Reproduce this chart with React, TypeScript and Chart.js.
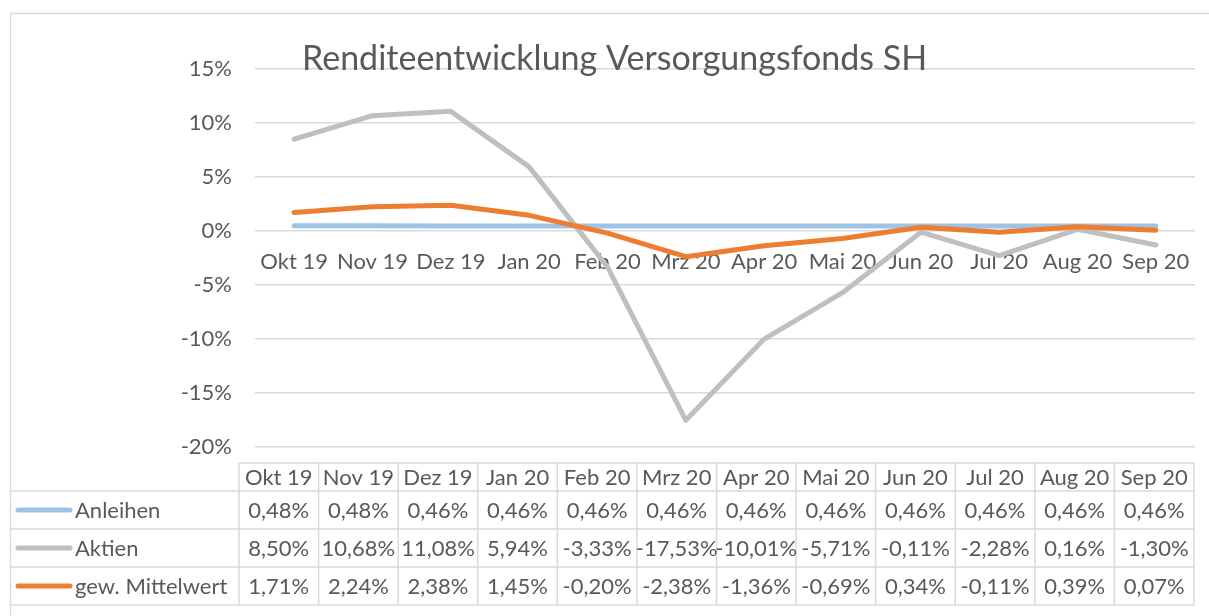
import React, { useEffect, useRef } from "react";
import { Chart, registerables } from "chart.js";

Chart.register(...registerables);

const title = "Renditeentwicklung Versorgungsfonds SH";
const categories = ["Okt 19", "Nov 19", "Dez 19", "Jan 20", "Feb 20", "Mrz 20", "Apr 20", "Mai 20", "Jun 20", "Jul 20", "Aug 20", "Sep 20"];
const anleihen = [0.48, 0.48, 0.46, 0.46, 0.46, 0.46, 0.46, 0.46, 0.46, 0.46, 0.46, 0.46];
const aktien = [8.5, 10.68, 11.08, 5.94, -3.33, -17.53, -10.01, -5.71, -0.11, -2.28, 0.16, -1.3];
const mittelwert = [1.71, 2.24, 2.38, 1.45, -0.2, -2.38, -1.36, -0.69, 0.34, -0.11, 0.39, 0.07];
const seriesNames = ["Anleihen", "Aktien", "gew. Mittelwert"];
const seriesColors = ["#9DC3E6", "#BFBFBF", "#ED7D31"];
const yMin = -20;
const yMax = 15;
const yStep = 5;

const FONT = "Lato, 'Open Sans', sans-serif";
const TEXT = "#595959";
const GRID = "#D9D9D9";
const LABEL_SIZE = 22;

const fmt = (v: number) => v.toFixed(2).replace(".", ",") + "%";

const decorPlugin = {
  id: "excelDecor",
  beforeDraw(chart: any) {
    const ctx = chart.ctx;
    ctx.save();
    ctx.fillStyle = "#ffffff";
    ctx.fillRect(0, 0, chart.width, chart.height);
    ctx.strokeStyle = GRID;
    ctx.lineWidth = 1.5;
    ctx.strokeRect(10.5, 13.5, chart.width + 20, chart.height + 20);
    ctx.restore();
  },
  beforeDatasetsDraw(chart: any) {
    const ctx = chart.ctx;
    const xs = chart.scales.x;
    const ys = chart.scales.y;
    const y0 = ys.getPixelForValue(0);
    ctx.save();
    ctx.font = `${LABEL_SIZE}px ${FONT}`;
    ctx.fillStyle = TEXT;
    ctx.textAlign = "center";
    ctx.textBaseline = "middle";
    categories.forEach((c, i) => ctx.fillText(c, xs.getPixelForValue(i), y0 + 31));
    ctx.restore();
  },
  afterDraw(chart: any) {
    const ctx = chart.ctx;
    const area = chart.chartArea;
    ctx.save();
    // title
    ctx.font = `34px ${FONT}`;
    ctx.fillStyle = TEXT;
    ctx.textAlign = "left";
    ctx.textBaseline = "alphabetic";
    ctx.fillText(title, 302, 70);

    // data table
    const tLeft = area.left - 16;
    const tRight = area.right - 1;
    const outerLeft = 10;
    const colW = (tRight - tLeft) / categories.length;
    const rowsY = [463, 491, 529, 567, 605];
    ctx.strokeStyle = GRID;
    ctx.lineWidth = 1.5;
    ctx.beginPath();
    ctx.moveTo(tLeft, rowsY[0]);
    ctx.lineTo(tRight, rowsY[0]);
    for (let r = 1; r < rowsY.length; r++) {
      ctx.moveTo(outerLeft, rowsY[r]);
      ctx.lineTo(tRight, rowsY[r]);
    }
    for (let c = 0; c <= categories.length; c++) {
      const x = tLeft + c * colW;
      ctx.moveTo(x, rowsY[0]);
      ctx.lineTo(x, rowsY[rowsY.length - 1]);
    }
    ctx.stroke();

    ctx.font = `${LABEL_SIZE}px ${FONT}`;
    ctx.fillStyle = TEXT;
    ctx.textBaseline = "middle";
    ctx.textAlign = "center";
    categories.forEach((c, i) => ctx.fillText(c, tLeft + (i + 0.5) * colW, (rowsY[0] + rowsY[1]) / 2 + 1));

    const series = [anleihen, aktien, mittelwert];
    series.forEach((vals, r) => {
      const yMid = (rowsY[r + 1] + rowsY[r + 2]) / 2 + 1;
      ctx.textAlign = "center";
      ctx.fillStyle = TEXT;
      vals.forEach((v, i) => ctx.fillText(fmt(v), tLeft + (i + 0.5) * colW, yMid));
      // legend key
      ctx.strokeStyle = seriesColors[r];
      ctx.lineWidth = 5;
      ctx.lineCap = "round";
      ctx.beginPath();
      ctx.moveTo(18, yMid - 1);
      ctx.lineTo(70, yMid - 1);
      ctx.stroke();
      ctx.textAlign = "left";
      ctx.fillStyle = TEXT;
      ctx.fillText(seriesNames[r], 75, yMid);
    });
    ctx.restore();
  },
};

export default function App() {
  const ref = useRef<HTMLCanvasElement | null>(null);
  useEffect(() => {
    if (!ref.current) return;
    const mk = (data: number[], i: number, order: number) => ({
      label: seriesNames[i],
      data,
      borderColor: seriesColors[i],
      backgroundColor: seriesColors[i],
      borderWidth: 5,
      pointRadius: 0,
      pointHoverRadius: 0,
      tension: 0,
      fill: false,
      borderCapStyle: "round" as const,
      borderJoinStyle: "round" as const,
      order,
    });
    const chart = new Chart(ref.current, {
      type: "line",
      data: {
        labels: categories,
        datasets: [mk(anleihen, 0, 3), mk(aktien, 1, 2), mk(mittelwert, 2, 1)],
      },
      options: {
        animation: false,
        responsive: true,
        maintainAspectRatio: false,
        devicePixelRatio: 1,
        layout: { padding: { left: 0, top: 69, right: 14, bottom: 169 } },
        plugins: { legend: { display: false }, tooltip: { enabled: false }, title: { display: false } },
        scales: {
          x: { type: "category", offset: true, display: false, grid: { display: false } },
          y: {
            min: yMin,
            max: yMax,
            ticks: {
              stepSize: yStep,
              padding: 23,
              color: TEXT,
              font: { family: FONT, size: LABEL_SIZE },
              callback: (v: any) => `${v}%`,
            },
            grid: { color: GRID, lineWidth: 1.5, drawTicks: false },
            border: { display: false },
            afterFit: (scale: any) => {
              scale.width = 255;
            },
          },
        },
      },
      plugins: [decorPlugin],
    });
    return () => chart.destroy();
  }, []);
  return (
    <div style={{ position: "fixed", left: 0, top: 0, width: "1209px", height: "616px", background: "#fff" }}>
      <canvas ref={ref} />
    </div>
  );
}
